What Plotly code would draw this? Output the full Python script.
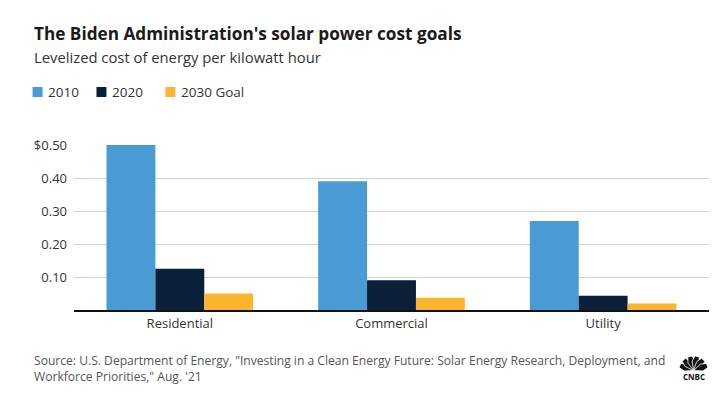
import math
import plotly.graph_objects as go

categories = ["Residential", "Commercial", "Utility"]
series_names = ["2010", "2020", "2030 Goal"]
values_2010 = [0.50, 0.39, 0.27]
values_2020 = [0.125, 0.09, 0.043]
values_2030 = [0.05, 0.037, 0.02]
colors = ["#4A9BD4", "#0A1F38", "#FBB52E"]
tick_vals = [0.1, 0.2, 0.3, 0.4, 0.5]
tick_text = ["0.10", "0.20", "0.30", "0.40", "$0.50"]

FONT = "'Open Sans', sans-serif"
W, H = 724, 393
ML, MR, MT, MB = 73.5, 14.5, 145, 83

fig = go.Figure()
for name, vals, col in zip(series_names, [values_2010, values_2020, values_2030], colors):
    fig.add_trace(go.Bar(x=categories, y=vals, name=name, marker=dict(color=col, line=dict(width=0)),
                         hoverinfo="skip", showlegend=False))

fig.update_layout(
    width=W, height=H,
    margin=dict(l=ML, r=MR, t=MT, b=MB, pad=0),
    paper_bgcolor="white", plot_bgcolor="white",
    barmode="group", bargap=0.307, bargroupgap=0,
    font=dict(family=FONT, size=13, color="#333"),
    showlegend=False,
    xaxis=dict(showgrid=False, showline=True, linecolor="#111", linewidth=2, ticks="",
               tickfont=dict(size=13, color="#333"), fixedrange=True),
    yaxis=dict(range=[0, 0.5], tickvals=tick_vals, ticktext=tick_text, showgrid=True,
               gridcolor="#d3d3d3", gridwidth=1, zeroline=False, ticks="", showline=False,
               tickfont=dict(size=13, color="#333"), ticklabelstandoff=6, fixedrange=True),
)

def px_x(px):
    return (px - ML) / (W - ML - MR)

def px_y(py):
    return (H - MB - py) / (H - MT - MB)

def text(t, x, y, size, color, anchor="left", bold=False):
    fig.add_annotation(text=f"<b>{t}</b>" if bold else t, xref="paper", yref="paper",
                       x=px_x(x), y=px_y(y), xanchor=anchor, yanchor="middle", showarrow=False,
                       align="left", font=dict(size=size, color=color, family=FONT))

text("The Biden Administration's solar power cost goals", 31, 33, 17.2, "#1a1a1a", bold=True)
text("Levelized cost of energy per kilowatt hour", 31, 57, 14.8, "#333")

# legend (manual, to match compact spacing)
legend_x = [(32, 46), (96, 111), (165, 180)]
for (sx, tx), name, col in zip(legend_x, series_names, colors):
    fig.add_shape(type="rect", xref="paper", yref="paper", x0=px_x(sx), x1=px_x(sx + 10),
                  y0=px_y(97), y1=px_y(87), fillcolor=col, line=dict(width=0))
    text(name, tx - 1, 91.5, 13.5, "#333")

text("Source: U.S. Department of Energy, \"Investing in a Clean Energy Future: Solar Energy Research, Deployment, and<br>Workforce Priorities,\" Aug. '21",
     31, 368.5, 12.1, "#555")

# CNBC peacock mark
cx, cy = 694, 370.5
for i in range(6):
    ang = math.radians(160 - i * 28)
    L, wdt = 14.5, 3.6
    tipx, tipy = cx + L * math.cos(ang), cy - L * math.sin(ang)
    nx, ny = -math.sin(ang), -math.cos(ang)
    mx, my = cx + 0.6 * L * math.cos(ang), cy - 0.6 * L * math.sin(ang)
    pts = [(cx, cy), (mx + nx * wdt, my + ny * wdt), (tipx + nx * 2.2, tipy + ny * 2.2),
           (tipx - nx * 2.2, tipy - ny * 2.2), (mx - nx * wdt, my - ny * wdt)]
    path = "M " + " L ".join(f"{px_x(a):.5f},{px_y(b):.5f}" for a, b in pts) + " Z"
    fig.add_shape(type="path", path=path, xref="paper", yref="paper", fillcolor="#111",
                  line=dict(width=0.8, color="#fff"))
text("CNBC", 694, 376, 8, "#111", anchor="center", bold=True)

fig.write_html("out.html", config={"displayModeBar": False},
               post_script="document.body.style.margin='0';document.body.style.padding='0';")
